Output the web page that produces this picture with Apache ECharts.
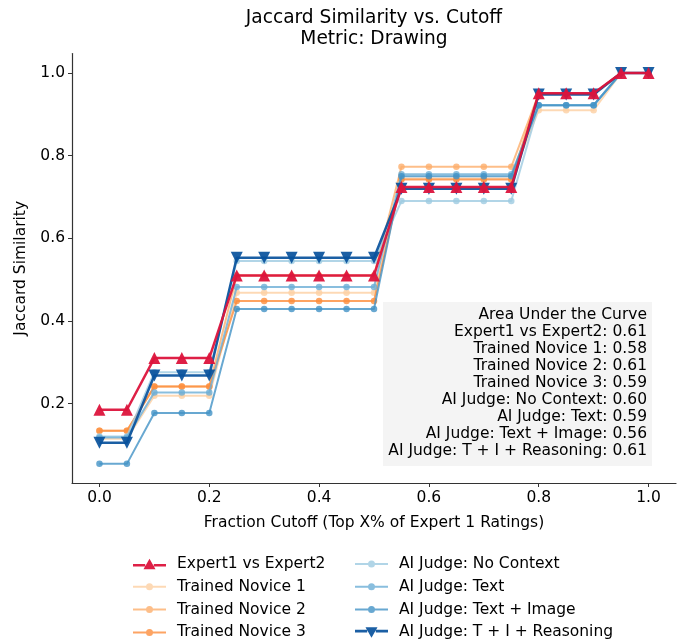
<!DOCTYPE html>
<html>
<head>
<meta charset="utf-8">
<script src="https://cdn.jsdelivr.net/npm/echarts@6/dist/echarts.min.js"></script>
<style>
html,body{margin:0;padding:0;background:#fff;}
#chart{width:684px;height:641px;}
</style>
</head>
<body>
<div id="chart"></div>
<script>
const cutoffs = [0.00,0.05,0.10,0.15,0.20,0.25,0.30,0.35,0.40,0.45,0.50,0.55,0.60,0.65,0.70,0.75,0.80,0.85,0.90,0.95,1.00];
const expert1VsExpert2 = [0.185,0.185,0.310,0.310,0.310,0.510,0.510,0.510,0.510,0.510,0.510,0.724,0.724,0.724,0.724,0.724,0.951,0.951,0.951,1.000,1.000];
const trainedNovice1 = [0.115,0.115,0.219,0.219,0.219,0.468,0.468,0.468,0.468,0.468,0.468,0.745,0.745,0.745,0.745,0.745,0.910,0.910,0.910,1.000,1.000];
const trainedNovice2 = [0.134,0.134,0.241,0.241,0.241,0.510,0.510,0.510,0.510,0.510,0.510,0.773,0.773,0.773,0.773,0.773,0.950,0.950,0.950,1.000,1.000];
const trainedNovice3 = [0.134,0.134,0.241,0.241,0.241,0.448,0.448,0.448,0.448,0.448,0.448,0.742,0.742,0.742,0.742,0.742,0.950,0.950,0.950,1.000,1.000];
const aiNoContext = [0.120,0.120,0.276,0.276,0.276,0.545,0.545,0.545,0.545,0.545,0.545,0.690,0.690,0.690,0.690,0.690,0.922,0.922,0.922,1.000,1.000];
const aiText = [0.118,0.118,0.227,0.227,0.227,0.482,0.482,0.482,0.482,0.482,0.482,0.755,0.755,0.755,0.755,0.755,0.922,0.922,0.922,1.000,1.000];
const aiTextImage = [0.054,0.054,0.177,0.177,0.177,0.429,0.429,0.429,0.429,0.429,0.429,0.750,0.750,0.750,0.750,0.750,0.922,0.922,0.922,1.000,1.000];
const aiReasoning = [0.105,0.105,0.268,0.268,0.268,0.553,0.553,0.553,0.553,0.553,0.553,0.720,0.720,0.720,0.720,0.720,0.948,0.948,0.948,1.000,1.000];
const xTicks = [0.0,0.2,0.4,0.6,0.8,1.0];
const yTicks = [0.2,0.4,0.6,0.8,1.0];
const aucLines = [
  "Area Under the Curve",
  "Expert1 vs Expert2: 0.61",
  "Trained Novice 1: 0.58",
  "Trained Novice 2: 0.61",
  "Trained Novice 3: 0.59",
  "AI Judge: No Context: 0.60",
  "AI Judge: Text: 0.59",
  "AI Judge: Text + Image: 0.56",
  "AI Judge: T + I + Reasoning: 0.61"
];

const FONT = "DejaVu Sans";
const FS = 15.5;
const pairs = arr => cutoffs.map((x, i) => [x, arr[i]]);

// legend glyphs: a short line with a marker (box 33 x 14), non-overlapping sub-paths
const ICON_CIRCLE = 'path://M0 6H13.2V8H0Z M19.8 6H33V8H19.8Z M13 7A3.5 3.5 0 1 1 20 7A3.5 3.5 0 1 1 13 7Z';
const ICON_UP = 'path://M0 5.7H12.2V8.3H0Z M20.8 5.7H33V8.3H20.8Z M16.5 0.5L22.5 11L10.5 11Z';
const ICON_DOWN = 'path://M0 5.7H12.2V8.3H0Z M20.8 5.7H33V8.3H20.8Z M10.5 3L22.5 3L16.5 13.5Z';

function circleSeries(name, data, color, z) {
  return {
    name, type: 'line', data: pairs(data), z,
    symbol: 'circle', symbolSize: 6.5, showSymbol: true,
    lineStyle: { color, width: 2, opacity: 0.8 },
    itemStyle: { color, opacity: 0.8 },
    emphasis: { disabled: true }, animation: false
  };
}

const series = [
  circleSeries('Trained Novice 1', trainedNovice1, '#fdd0a2', 2),
  circleSeries('Trained Novice 2', trainedNovice2, '#fdae6b', 3),
  circleSeries('Trained Novice 3', trainedNovice3, '#fd8d3c', 4),
  circleSeries('AI Judge: No Context', aiNoContext, '#9ecae1', 5),
  circleSeries('AI Judge: Text', aiText, '#6baed6', 6),
  circleSeries('AI Judge: Text + Image', aiTextImage, '#4292c6', 7),
  {
    name: 'AI Judge: T + I + Reasoning', type: 'line', data: pairs(aiReasoning), z: 8,
    symbol: 'triangle', symbolRotate: 180, symbolSize: 12,
    lineStyle: { color: '#08519c', width: 2.5, opacity: 0.92 },
    itemStyle: { color: '#08519c', opacity: 0.92 },
    emphasis: { disabled: true }, animation: false
  },
  {
    name: 'Expert1 vs Expert2', type: 'line', data: pairs(expert1VsExpert2), z: 9,
    symbol: 'triangle', symbolSize: 12,
    lineStyle: { color: '#dc143c', width: 2.5, opacity: 0.95 },
    itemStyle: { color: '#dc143c', opacity: 0.95 },
    emphasis: { disabled: true }, animation: false
  }
];

const chart = echarts.init(document.getElementById('chart'), null, { renderer: 'canvas' });

const legendCommon = {
  orient: 'vertical', itemWidth: 33, itemHeight: 14, itemGap: 6.8, padding: 0, height: 110,
  symbolRotate: 0, symbolKeepAspect: true,
  itemStyle: { borderWidth: 0 },
  textStyle: { fontFamily: FONT, fontSize: FS, color: '#000', padding: [0, 0, 0, 6] },
  selectedMode: false
};

chart.setOption({
  animation: false,
  backgroundColor: '#fff',
  title: {
    text: 'Jaccard Similarity vs. Cutoff\nMetric: Drawing',
    left: 374, top: 7, textAlign: 'center', padding: 0,
    textStyle: { fontFamily: FONT, fontSize: 18.6, fontWeight: 'normal', color: '#000', lineHeight: 21.5 }
  },
  legend: [
    Object.assign({}, legendCommon, { left: 133, top: 556,
      data: [
        { name: 'Expert1 vs Expert2', icon: ICON_UP },
        { name: 'Trained Novice 1', icon: ICON_CIRCLE },
        { name: 'Trained Novice 2', icon: ICON_CIRCLE },
        { name: 'Trained Novice 3', icon: ICON_CIRCLE }
      ] }),
    Object.assign({}, legendCommon, { left: 355, top: 556,
      data: [
        { name: 'AI Judge: No Context', icon: ICON_CIRCLE },
        { name: 'AI Judge: Text', icon: ICON_CIRCLE },
        { name: 'AI Judge: Text + Image', icon: ICON_CIRCLE },
        { name: 'AI Judge: T + I + Reasoning', icon: ICON_DOWN }
      ] })
  ],
  grid: { left: 72, right: 8, top: 53.6, bottom: 158, containLabel: false },
  xAxis: {
    type: 'value', min: -0.05, max: 1.05,
    name: 'Fraction Cutoff (Top X% of Expert 1 Ratings)', nameLocation: 'middle', nameGap: 32,
    nameTextStyle: { fontFamily: FONT, fontSize: FS, color: '#000' },
    axisLine: { show: true, onZero: false, lineStyle: { color: '#333', width: 1.2 } },
    axisTick: { show: true, length: 4, lineStyle: { color: '#333' }, customValues: xTicks },
    axisLabel: { fontFamily: FONT, fontSize: FS, color: '#000', margin: 7, customValues: xTicks,
      formatter: v => v.toFixed(1) },
    splitLine: { show: false }
  },
  yAxis: {
    type: 'value', min: 0.0077, max: 1.047,
    name: 'Jaccard Similarity', nameLocation: 'middle', nameGap: 43,
    nameTextStyle: { fontFamily: FONT, fontSize: FS, color: '#000' },
    axisLine: { show: true, onZero: false, lineStyle: { color: '#333', width: 1.2 } },
    axisTick: { show: true, length: 4, lineStyle: { color: '#333' }, customValues: yTicks },
    axisLabel: { fontFamily: FONT, fontSize: FS, color: '#000', margin: 7, customValues: yTicks,
      formatter: v => v.toFixed(1) },
    splitLine: { show: false }
  },
  graphic: [
    { type: 'rect', shape: { x: 383, y: 302, width: 269, height: 164 },
      style: { fill: '#f2f2f2', opacity: 0.85 }, z: 100 },
    { type: 'text', x: 647, y: 306, z: 101,
      style: { text: aucLines.join('\n'), fill: '#000', font: FS + 'px "DejaVu Sans"',
        align: 'right', verticalAlign: 'top', lineHeight: 17.1 } }
  ],
  series
});
</script>
</body>
</html>
